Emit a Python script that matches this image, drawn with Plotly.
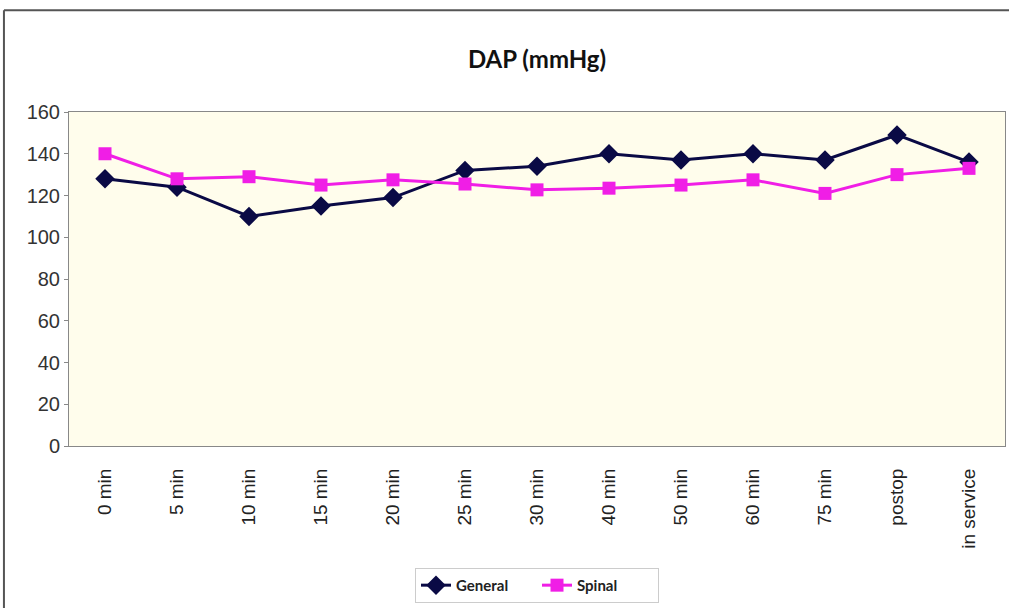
import plotly.graph_objects as go

# Time points along the x axis
time_points = ["0 min", "5 min", "10 min", "15 min", "20 min", "25 min", "30 min",
               "40 min", "50 min", "60 min", "75 min", "postop", "in service"]

# Diastolic arterial pressure (mmHg) per anaesthesia group
general = [128, 124, 110, 115, 119, 132, 134, 140, 137, 140, 137, 149, 136]
spinal = [140, 128, 129, 125, 127.5, 125.5, 122.7, 123.5, 125, 127.5, 121, 130, 133]

y_ticks = [0, 20, 40, 60, 80, 100, 120, 140, 160]

fig = go.Figure()
fig.add_trace(go.Scatter(
    x=time_points, y=general, name="General", mode="lines+markers",
    line=dict(color="#0a0a45", width=3),
    marker=dict(symbol="diamond", size=15, color="#0a0a45"),
))
fig.add_trace(go.Scatter(
    x=time_points, y=spinal, name="Spinal", mode="lines+markers",
    line=dict(color="#f01ee6", width=3),
    marker=dict(symbol="square", size=13, color="#f01ee6"),
))

# Outer chart frame: only the top and left edges fall inside the page
frame = dict(color="#555555", width=2)
fig.add_shape(type="line", xref="paper", yref="paper",
              x0=-0.0695, x1=1.1, y0=1.305, y1=1.305, line=frame, layer="below")
fig.add_shape(type="line", xref="paper", yref="paper",
              x0=-0.0695, x1=-0.0695, y0=-0.6, y1=1.305, line=frame, layer="below")

fig.update_layout(
    width=1009, height=608,
    margin=dict(l=69, r=4, t=112, b=162),
    paper_bgcolor="white",
    plot_bgcolor="#fffdec",
    title=dict(text="<b>DAP (mmHg)</b>", x=0.5, xref="paper", xanchor="center",
               y=1 - 60 / 608, yref="container", yanchor="middle",
               font=dict(family="Lato, Open Sans, sans-serif", size=24, color="#111111")),
    showlegend=True,
    legend=dict(orientation="h", x=0.5, xanchor="center", y=-0.365, yanchor="top",
                bordercolor="#cccccc", borderwidth=1, bgcolor="white",
                font=dict(family="Lato, Open Sans, sans-serif", size=15, color="#222222",
                          weight="bold"),
                entrywidth=76, entrywidthmode="pixels",
                itemwidth=30, tracegroupgap=0),
    font=dict(family="Liberation Sans, Arial, sans-serif", color="#222222"),
)

fig.update_xaxes(
    type="category", range=[-0.5, len(time_points) - 0.5],
    tickangle=-90, tickfont=dict(size=19, color="#222222"),
    ticklabelstandoff=14,
    showline=True, linecolor="#888888", linewidth=1, mirror=True,
    showgrid=False, ticks="", zeroline=False,
)
fig.update_yaxes(
    range=[0, 160], tickvals=y_ticks, tickfont=dict(size=20, color="#333333"),
    showline=True, linecolor="#888888", linewidth=1, mirror=True,
    showgrid=False, ticks="outside", ticklen=4, tickcolor="#888888", zeroline=False,
)

fig.write_html("out.html")
